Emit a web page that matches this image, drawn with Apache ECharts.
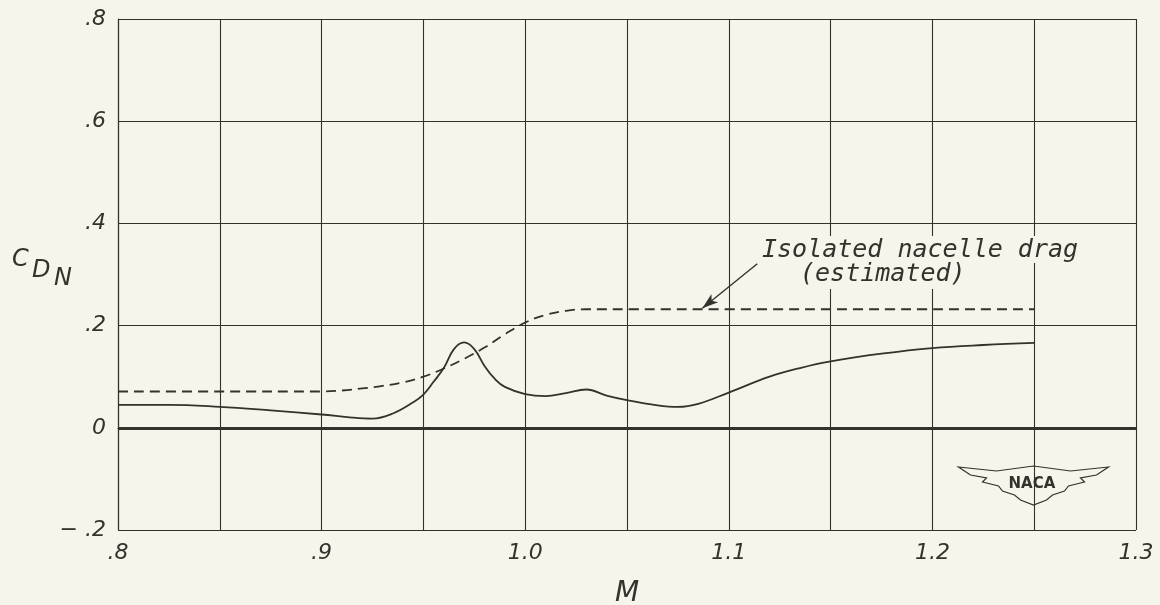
<!DOCTYPE html>
<html>
<head>
<meta charset="utf-8">
<script src="https://cdn.jsdelivr.net/npm/echarts@6/dist/echarts.min.js"></script>
<style>
  html, body { margin: 0; padding: 0; background: #f6f5ec; }
  #chart { width: 1160px; height: 605px; }
</style>
</head>
<body>
<div id="chart"></div>
<script>
// C_DN vs M — measured curve (solid) and isolated nacelle estimate (dashed)
const machSolid = [0.80, 0.825, 0.85, 0.875, 0.90, 0.915, 0.925, 0.935, 0.945, 0.95, 0.955, 0.96, 0.965, 0.970, 0.975, 0.98, 0.985, 0.99, 1.00, 1.01, 1.02, 1.03, 1.04, 1.05, 1.065, 1.075, 1.085, 1.10, 1.12, 1.135, 1.15, 1.175, 1.20, 1.225, 1.25];
const cdSolid   = [0.045, 0.045, 0.041, 0.034, 0.026, 0.020, 0.018, 0.028, 0.050, 0.065, 0.090, 0.117, 0.154, 0.167, 0.154, 0.121, 0.096, 0.080, 0.066, 0.062, 0.068, 0.075, 0.063, 0.054, 0.044, 0.041, 0.047, 0.069, 0.100, 0.117, 0.130, 0.145, 0.156, 0.162, 0.166];

const machDash = [0.80, 0.85, 0.90, 0.91, 0.92, 0.93, 0.94, 0.95, 0.96, 0.97, 0.98, 0.99, 1.00, 1.01, 1.02, 1.03, 1.04, 1.25];
const cdDash   = [0.071, 0.071, 0.071, 0.073, 0.077, 0.082, 0.089, 0.100, 0.116, 0.135, 0.157, 0.183, 0.206, 0.221, 0.229, 0.232, 0.232, 0.232];

// arrow of the note: from the text down to the dashed curve
const arrowFrom = [1.114, 0.321];
const arrowTo   = [1.087, 0.234];

const paper = '#f6f5ec';
const ink = '#35312c';
const font = 'DejaVu Sans';
const noteFont = 'italic 25px "DejaVu Sans Mono"';

const pairs = (xs, ys) => xs.map((x, i) => [x, ys[i]]);

const chart = echarts.init(document.getElementById('chart'));
chart.setOption({
  backgroundColor: paper,
  animation: false,
  grid: { left: 118, top: 19, right: 24, bottom: 75, outerBoundsMode: 'none', containLabel: false },
  xAxis: {
    type: 'value', min: 0.8, max: 1.3, interval: 0.05,
    axisLine: { show: true, lineStyle: { color: ink, width: 1.2 } },
    axisTick: { show: false },
    splitLine: { show: true, lineStyle: { color: ink, width: 1.1 } },
    axisLabel: {
      color: ink, fontFamily: font, fontStyle: 'italic', fontSize: 22, margin: 12,
      showMinLabel: true, showMaxLabel: true,
      formatter: v => {
        const h = Math.round(v * 100);
        if (h % 10 !== 0) return '';
        return h < 100 ? '.' + (h / 10) : (h / 100).toFixed(1);
      }
    },
    name: 'M', nameLocation: 'middle', nameGap: 50,
    nameTextStyle: { color: ink, fontFamily: font, fontStyle: 'italic', fontSize: 28 }
  },
  yAxis: {
    type: 'value', min: -0.2, max: 0.8, interval: 0.2,
    axisLine: { show: true, lineStyle: { color: ink, width: 1.2 } },
    axisTick: { show: false },
    splitLine: { show: true, lineStyle: { color: ink, width: 1.1 } },
    axisLabel: {
      color: ink, fontFamily: font, fontStyle: 'italic', fontSize: 22, margin: 12,
      formatter: v => {
        const t = Math.round(v * 10);
        if (t === 0) return '0';
        return (t < 0 ? '\u2212 ' : '') + '.' + Math.abs(t);
      }
    }
  },
  graphic: [
    { type: 'text', left: 12, top: 248, style: { text: 'C', fill: ink, font: 'italic 24px "DejaVu Sans"' } },
    { type: 'text', left: 32, top: 259, style: { text: 'D', fill: ink, font: 'italic 24px "DejaVu Sans"' } },
    { type: 'text', left: 54, top: 267, style: { text: 'N', fill: ink, font: 'italic 24px "DejaVu Sans"' } },
    {
      type: 'text', left: 760, top: 236, z: 100,
      style: {
        text: 'Isolated nacelle drag', fill: ink, font: noteFont,
        backgroundColor: paper, padding: [2, 2, 0, 2]
      }
    },
    {
      type: 'text', left: 798, top: 262, z: 100,
      style: {
        text: '(estimated)', fill: ink, font: noteFont,
        backgroundColor: paper, padding: [0, 2, 2, 2]
      }
    },
    {
      type: 'group', left: 956, top: 453, z: 100,
      children: [
        { type: 'rect', shape: { x: 0, y: 0, width: 154, height: 67 }, style: { fill: paper } },
        {
          type: 'polygon',
          shape: {
            points: [[2, 14], [40, 18], [77, 13], [114, 18], [152, 14], [140, 22], [124, 25], [128, 29],
                     [112, 33], [108, 38], [96, 42], [90, 47], [77, 52], [64, 47], [58, 42], [46, 38],
                     [42, 33], [26, 29], [30, 25], [14, 22]]
          },
          style: { fill: 'none', stroke: ink, lineWidth: 1.2 }
        },
        {
          type: 'text', left: 52, top: 24,
          style: { text: 'NACA', fill: ink, font: 'bold 15px "DejaVu Sans"' }
        }
      ]
    }
  ],
  series: [
    {
      name: 'measured', type: 'line', smooth: 0.4, symbol: 'none',
      data: pairs(machSolid, cdSolid),
      lineStyle: { color: ink, width: 1.8 },
      markLine: {
        silent: true, symbol: 'none', label: { show: false },
        lineStyle: { color: ink, width: 3, type: 'solid' },
        data: [{ yAxis: 0 }]
      }
    },
    {
      name: 'isolated nacelle drag (estimated)', type: 'line', smooth: 0.4, symbol: 'none',
      data: pairs(machDash, cdDash),
      lineStyle: { color: ink, width: 1.8, type: [10, 6] },
      markLine: {
        silent: true, symbol: ['none', 'arrow'], symbolSize: [8, 16], label: { show: false },
        lineStyle: { color: ink, width: 1.4, type: 'solid' },
        data: [[{ coord: arrowFrom }, { coord: arrowTo }]]
      }
    }
  ]
});
</script>
</body>
</html>
